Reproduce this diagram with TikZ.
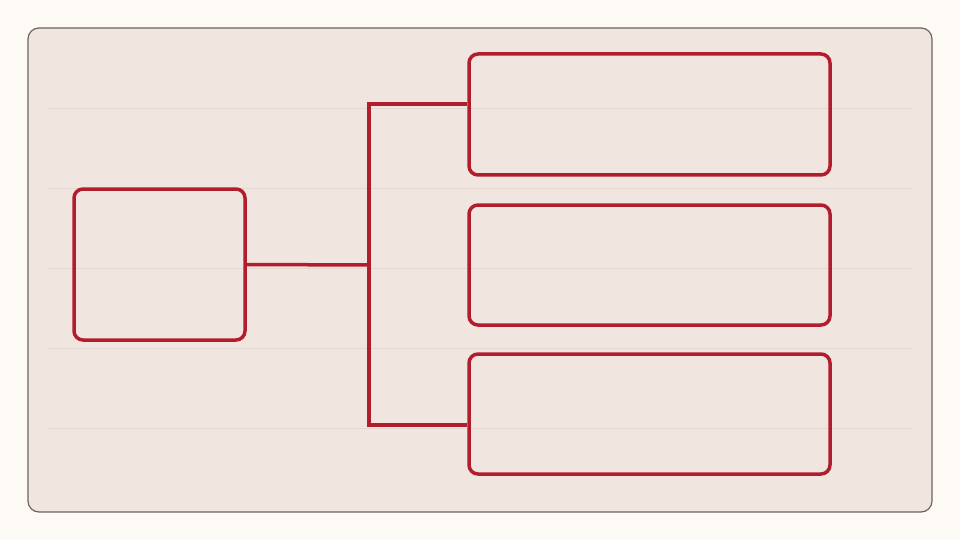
\documentclass[tikz,border=0pt]{standalone}
\usetikzlibrary{positioning}
\definecolor{pagebg}{HTML}{FDF9F4}
\definecolor{panelbg}{HTML}{F0E6DF}
\definecolor{panelrim}{HTML}{6B6461}
\definecolor{rulegray}{HTML}{E2D8D1}
\definecolor{boxred}{HTML}{B01E2E}
\tikzset{
	box/.style={draw=boxred, line width=3.5pt, rounded corners=9pt, inner sep=0pt},
	link/.style={draw=boxred, line width=3.5pt}
}
\begin{document}
\begin{tikzpicture}[x=1pt,y=-1pt]
		\fill[pagebg] (0,0) rectangle (960,540);
		\useasboundingbox (0,0) rectangle (960,540);
		\draw[fill=panelbg, draw=panelrim, line width=1.2pt, rounded corners=11pt] (28,28) rectangle (932,512);
		% faint rules
		\foreach \y in {108,188,268,348,428}
			\draw[rulegray, line width=0.8pt] (48,\y) -- (912,\y);
		
		\node[box, minimum width=171pt, minimum height=151pt] (root) at (159.5,264.5) {};
		\node[box, minimum width=361pt, minimum height=121pt] (top) at (649.5,114.5) {};
		\node[box, minimum width=361pt, minimum height=120pt] (mid) at (649.5,265) {};
		\node[box, minimum width=361pt, minimum height=120pt] (bot) at (649.5,414) {};
		
		\coordinate (fork) at (369,265);
		\draw[link] (root.east) -- (fork);
		\draw[link] (fork) |- (top.west |- 0,104);
		\draw[link] (fork) |- (bot.west |- 0,425);
\end{tikzpicture}
\end{document}
